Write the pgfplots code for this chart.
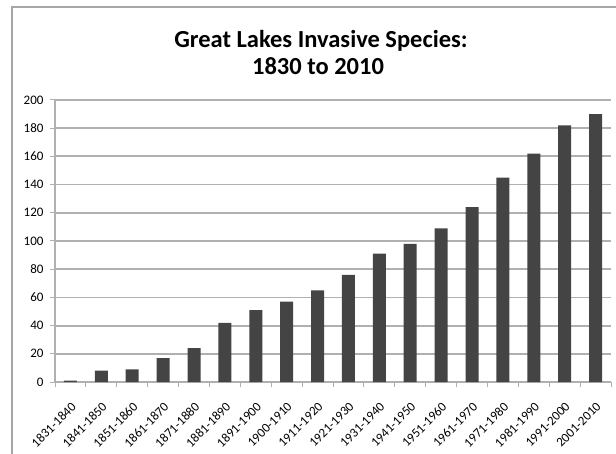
\documentclass[border=0pt]{standalone}
\usepackage{pgfplots}
\pgfplotsset{compat=1.18}
\usepackage{fontspec}
\setmainfont{Carlito}
\definecolor{framegray}{HTML}{A6A6A6}
\definecolor{gridgray}{HTML}{B0B0B0}
\definecolor{bargray}{HTML}{444444}

\begin{document}
\begin{tikzpicture}
\useasboundingbox (0pt,0pt) rectangle (616pt,453pt);
\begin{scope}
  \clip (0pt,0pt) rectangle (616pt,453pt);
  \draw[line width=2pt, framegray] (12pt,-20pt) rectangle (640pt,446pt);
\end{scope}
\node[font=\bfseries\fontsize{24.5}{28}\selectfont, anchor=base] at (321pt,405pt) {Great Lakes Invasive Species:};
\node[font=\bfseries\fontsize{24.5}{28}\selectfont, anchor=base] at (318pt,378pt) {1830 to 2010};

\begin{axis}[
    at={(55pt,71pt)}, anchor=south west,
    scale only axis, width=556pt, height=282pt,
    ymin=0, ymax=200, ytick={0,20,...,200},
    xmin=-0.5, xmax=17.5,
    xtick={0,...,17},
    xticklabels={1831-1840,1841-1850,1851-1860,1861-1870,1871-1880,1881-1890,1891-1900,1900-1910,1911-1920,1921-1930,1931-1940,1941-1950,1951-1960,1961-1970,1971-1980,1981-1990,1991-2000,2001-2010},
    minor xtick={-0.5,0.5,...,17.5},
    axis lines*=left,
    axis line style={gridgray, line width=1.2pt},
    ymajorgrids,
    grid style={gridgray, line width=1.8pt},
    tick align=outside,
    tick style={gridgray, line width=1pt},
    major x tick style={draw=none},
    major tick length=5pt,
    minor tick length=5pt,
    ticklabel style={font=\fontsize{13}{15}\selectfont},
    xticklabel style={rotate=45, anchor=north east, inner sep=1pt},
    xticklabel shift=13pt,
    yticklabel shift=3pt,
    /pgf/number format/assume math mode=true,
    clip=false,
]
\addplot[ybar, bar width=13pt, fill=bargray, draw=none] coordinates {
    (0,1) (1,8) (2,9) (3,17) (4,24) (5,42) (6,51) (7,57) (8,65)
    (9,76) (10,91) (11,98) (12,109) (13,124) (14,145) (15,162) (16,182) (17,190)
};
\end{axis}
\end{tikzpicture}
\end{document}
